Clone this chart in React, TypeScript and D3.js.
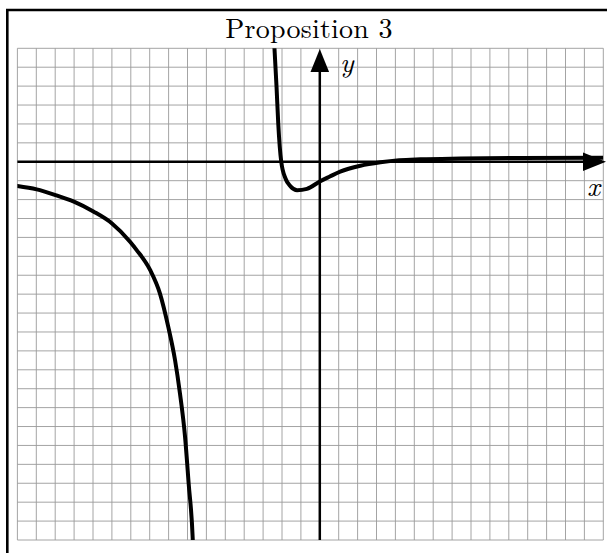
import React from "react";
import * as d3 from "d3";

// Axis extents in grid units (one unit = one grid cell)
const xDomain = [-16, 15];
const yDomain = [-20, 6];

// Left branch of the curve (x, y)
const leftX = [-16.3, -16.0, -14.98, -13.99, -13.01, -11.98, -11.01, -10.04, -9.69, -8.98, -8.46, -8.02, -7.66, -7.4, -7.13, -6.94, -6.72, -6.68];
const leftY = [-1.24, -1.28, -1.46, -1.76, -2.11, -2.63, -3.25, -4.23, -4.67, -5.72, -6.96, -8.72, -10.48, -12.24, -14.54, -16.99, -20.0, -21.06];

// Right branch of the curve
const rightX = [-2.46, -2.4, -2.29, -2.2, -2.04, -1.81, -1.55, -1.2, -0.68, 0.0, 0.53, 1.08, 2.15, 3.21, 4.2, 5.33, 7.44, 10.62, 15.0];
const rightY = [7.0, 6.03, 3.98, 2.05, 0.0, -0.9, -1.3, -1.5, -1.43, -1.04, -0.78, -0.52, -0.21, -0.03, 0.08, 0.13, 0.17, 0.2, 0.21];

const title = "Proposition 3";
const xLabel = "x";
const yLabel = "y";

const SERIF =
  "'Latin Modern Roman', 'CMU Serif', 'Liberation Serif', 'DejaVu Serif', 'Noto Serif', Tinos, FreeSerif, 'Nimbus Roman', 'Nimbus Roman No9 L', 'Times New Roman', Times, Georgia, serif";

export default function App() {
  const W = 607, H = 553;
  const gx0 = 17.4, gx1 = 603.3, gy0 = 48.3, gy1 = 540;
  const x = d3.scaleLinear().domain(xDomain).range([gx0, gx1]);
  const y = d3.scaleLinear().domain(yDomain).range([gy1, gy0]);

  const xt = d3.range(xDomain[0], xDomain[1] + 1);
  const yt = d3.range(yDomain[0], yDomain[1] + 1);

  const line = d3
    .line<[number, number]>()
    .x((d) => x(d[0]))
    .y((d) => y(d[1]))
    .curve(d3.curveMonotoneX);

  const left = leftX.map((v, i) => [v, leftY[i]] as [number, number]);
  const right = rightX.map((v, i) => [v, rightY[i]] as [number, number]);

  const ox = x(0), oy = y(0);
  const arrowLen = 23, arrowHalf = 9.3;
  const xTip = 606;
  const yTip = 49;

  return (
    <svg width={W} height={H} style={{ position: "absolute", left: 0, top: 0, background: "#fff" }}>
      <defs>
        <clipPath id="gridclip">
          <rect x={gx0} y={gy0} width={gx1 - gx0} height={gy1 - gy0} />
        </clipPath>
      </defs>
      <rect x={0} y={0} width={W} height={H} fill="#fff" />
      {/* frame */}
      <path d={`M7.3,${H + 5} V10 H${W + 5}`} fill="none" stroke="#000" strokeWidth={2.6} />
      {/* grid */}
      <g stroke="#9a9a9a" strokeWidth={0.9}>
        {xt.map((t) => (
          <line key={"vx" + t} x1={x(t)} x2={x(t)} y1={gy0} y2={gy1} />
        ))}
        {yt.map((t) => (
          <line key={"hy" + t} x1={gx0} x2={gx1} y1={y(t)} y2={y(t)} />
        ))}
      </g>
      {/* axes */}
      <line x1={gx0} x2={xTip - arrowLen + 2} y1={oy} y2={oy} stroke="#000" strokeWidth={2.5} />
      <path d={`M${xTip},${oy} L${xTip - arrowLen},${oy - arrowHalf} L${xTip - arrowLen},${oy + arrowHalf} Z`} fill="#000" />
      <line x1={ox} x2={ox} y1={gy1} y2={yTip + arrowLen - 2} stroke="#000" strokeWidth={2.5} />
      <path d={`M${ox},${yTip} L${ox - arrowHalf},${yTip + arrowLen} L${ox + arrowHalf},${yTip + arrowLen} Z`} fill="#000" />
      {/* curve */}
      <g clipPath="url(#gridclip)" fill="none" stroke="#000" strokeWidth={4} strokeLinejoin="round">
        <path d={line(left) || ""} />
        <path d={line(right) || ""} />
      </g>
      {/* labels */}
      <text x={309} y={38} textAnchor="middle" style={{ fontFamily: SERIF, fontSize: 28, letterSpacing: 0.2 }} fill="#000">
        {title}
      </text>
      <text x={340} y={72} style={{ fontFamily: SERIF, fontStyle: "italic", fontSize: 28 }} fill="#000">
        {yLabel}
      </text>
      <text x={587} y={196} style={{ fontFamily: SERIF, fontStyle: "italic", fontSize: 28 }} fill="#000">
        {xLabel}
      </text>
    </svg>
  );
}
